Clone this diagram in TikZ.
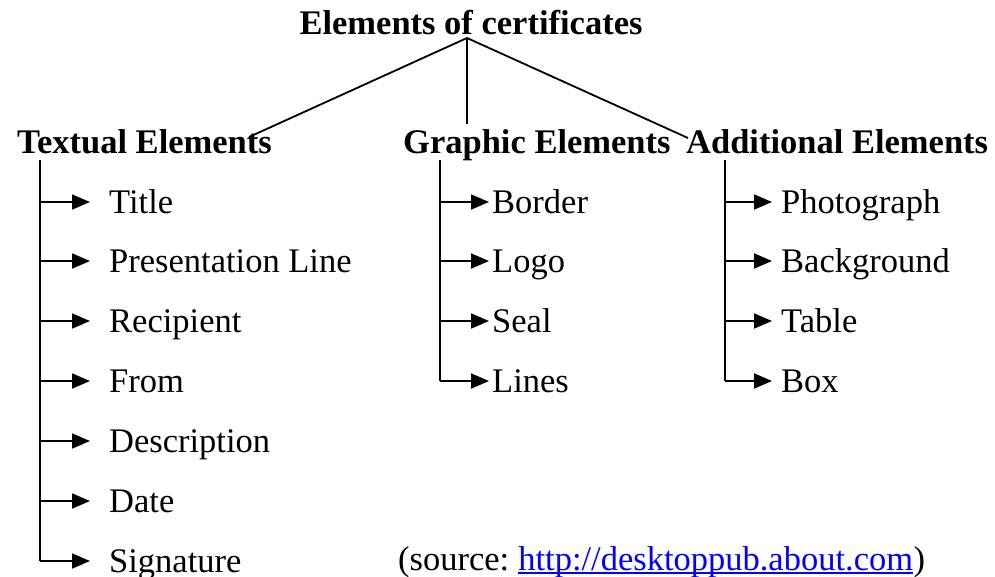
\documentclass[tikz,border=0pt]{standalone}
\usepackage{fontspec}
\setmainfont{Liberation Serif}
\usetikzlibrary{arrows.meta}
\begin{document}
\begin{tikzpicture}[x=1pt,y=-1pt,
  item/.style={anchor=base west, inner sep=0pt, font=\fontsize{34.5}{40}\selectfont},
  head/.style={anchor=base west, inner sep=0pt, font=\fontsize{34.5}{40}\selectfont\bfseries},
  conn/.style={line width=1.8pt},
  arr/.style={conn, -{Triangle[length=18pt,width=15pt]}}]
\useasboundingbox (0,0) rectangle (995,577);

% title and headings
\node[head, anchor=base] (title) at (471,35) {Elements of certificates};
\node[head] (textual) at (17,154) {Textual Elements};
\node[head] (graphic) at (403,154) {Graphic Elements};
\node[head] (additional) at (686,154) {Additional Elements};

\coordinate (apex) at (467,38);
\coordinate (tEnd) at (249,137);
\coordinate (gEnd) at (467,124);
\coordinate (aEnd) at (688,138);
\draw[conn] (apex) -- (tEnd);
\draw[conn] (apex) -- (gEnd);
\draw[conn] (apex) -- (aEnd);

% textual elements
\coordinate (tTop) at (40,160);
\foreach \i/\y/\t in {1/202/Title,2/261/Presentation Line,3/321/Recipient,4/381/From,5/441/Description,6/501/Date,7/561/Signature}{
  \node[item] (t\i) at (109,\y+11.5) {\t};
  \coordinate (tb\i) at (40,\y);
  \draw[arr, shorten >=19pt] (tb\i) -- (tb\i -| t\i.west);
}
\draw[conn] (tTop) -- (tb7);

% graphic elements
\coordinate (gTop) at (440,160);
\foreach \i/\y/\t in {1/202/Border,2/261/Logo,3/321/Seal,4/381/Lines}{
  \node[item] (g\i) at (492,\y+11.5) {\t};
  \coordinate (gb\i) at (440,\y);
  \draw[arr, shorten >=3pt] (gb\i) -- (gb\i -| g\i.west);
}
\draw[conn] (gTop) -- (gb4);

% additional elements
\coordinate (aTop) at (725,160);
\foreach \i/\y/\t in {1/202/Photograph,2/261/Background,3/321/Table,4/381/Box}{
  \node[item] (a\i) at (781,\y+11.5) {\t};
  \coordinate (ab\i) at (725,\y);
  \draw[arr, shorten >=9pt] (ab\i) -- (ab\i -| a\i.west);
}
\draw[conn] (aTop) -- (ab4);

% source
\node[item] (src) at (398,570) {(source:};
\node[item, text=blue] (url) at ([xshift=8.6pt]src.base east) {http://desktoppub.about.com};
\node[item] (srcend) at (url.base east) {)};
\draw[blue, line width=1.6pt] ([yshift=-3pt]url.base west) -- ([yshift=-3pt]url.base east);
\end{tikzpicture}
\end{document}
